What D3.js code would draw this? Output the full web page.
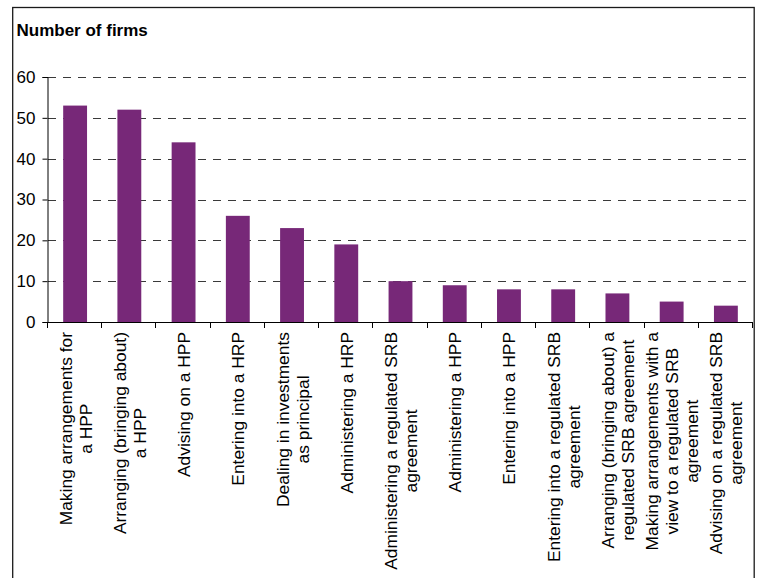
<!DOCTYPE html>
<html>
<head>
<meta charset="utf-8">
<script src="https://cdn.jsdelivr.net/npm/d3@7/dist/d3.min.js"></script>
<style>
  html, body { margin: 0; padding: 0; background: #fff; }
  svg { display: block; font-family: "Liberation Sans", Arial, sans-serif; }
</style>
</head>
<body>
<svg id="chart" width="758" height="578"></svg>
<script>
// Activities (each label split into its wrapped lines) and firm counts
const categories = [
  ["Making arrangements for", "a HPP"],
  ["Arranging (bringing about)", "a HPP"],
  ["Advising on a HPP"],
  ["Entering into a HRP"],
  ["Dealing in investments", "as principal"],
  ["Administering a HRP"],
  ["Administering a regulated SRB", "agreement"],
  ["Administering a HPP"],
  ["Entering into a HPP"],
  ["Entering into a regulated SRB", "agreement"],
  ["Arranging (bringing about) a", "regulated SRB agreement"],
  ["Making arrangements with a", "view to a regulated SRB", "agreement"],
  ["Advising on a regulated SRB", "agreement"]
];
const firms = [53, 52, 44, 26, 23, 19, 10, 9, 8, 8, 7, 5, 4];
const yTicks = [0, 10, 20, 30, 40, 50, 60];
const title = "Number of firms";

const svg = d3.select("#chart");
const plotLeft = 48, plotRight = 753, plotTop = 77, plotBottom = 322;
const barColor = "#772878";
const labelSize = 17.4;
const tickSize = 17;

// Frame around the whole chart
svg.append("rect")
  .attr("x", 12.7).attr("y", 7.5)
  .attr("width", 741.5).attr("height", 600)
  .attr("fill", "none").attr("stroke", "#1a1a1a").attr("stroke-width", 1.3);

svg.append("text")
  .attr("x", 16.5).attr("y", 35.5)
  .attr("font-weight", "bold").attr("font-size", 17)
  .attr("fill", "#000")
  .text(title);

const idx = d3.range(categories.length);
const x = d3.scaleBand().domain(idx).range([plotLeft, plotRight])
  .paddingInner(0.56).paddingOuter(0.28);
const y = d3.scaleLinear().domain([0, 60]).range([plotBottom, plotTop]);

// Dashed gridlines
svg.append("g").selectAll("line")
  .data(yTicks.filter(d => d > 0))
  .join("line")
  .attr("x1", plotLeft).attr("x2", plotRight)
  .attr("y1", d => Math.round(y(d)) + 0.5).attr("y2", d => Math.round(y(d)) + 0.5)
  .attr("stroke", "#3a3a3a").attr("stroke-width", 1)
  .attr("stroke-dasharray", "8,7");

// Bars
svg.append("g").selectAll("rect")
  .data(firms)
  .join("rect")
  .attr("x", (d, i) => x(i))
  .attr("width", x.bandwidth())
  .attr("y", d => y(d))
  .attr("height", d => y(0) - y(d))
  .attr("fill", barColor);

// Y axis
const yAxis = svg.append("g")
  .attr("transform", `translate(${plotLeft - 0.5},0)`)
  .call(d3.axisLeft(y).tickValues(yTicks).tickSize(5).tickPadding(7).tickFormat(d3.format("d")));
yAxis.select(".domain").attr("stroke", "#000");
yAxis.selectAll(".tick line").attr("stroke", "#000");
yAxis.selectAll(".tick text")
  .attr("font-size", tickSize).attr("fill", "#000")
  .attr("font-family", "Liberation Sans, Arial, sans-serif");

// X axis line with ticks at category boundaries
const step = x.step();
const boundaries = d3.range(categories.length + 1).map(i => plotLeft + i * step);
const xg = svg.append("g");
xg.append("line")
  .attr("x1", plotLeft - 0.5).attr("x2", plotRight)
  .attr("y1", plotBottom + 0.5).attr("y2", plotBottom + 0.5)
  .attr("stroke", "#000");
xg.selectAll("line.tk")
  .data(boundaries)
  .join("line").attr("class", "tk")
  .attr("x1", d => Math.round(d) - 0.5).attr("x2", d => Math.round(d) - 0.5)
  .attr("y1", plotBottom).attr("y2", plotBottom + 6)
  .attr("stroke", "#000");

// Rotated, centered multi-line category labels
const lineGap = 20;
const labelTop = 332;
const labels = svg.append("g").selectAll("g")
  .data(categories)
  .join("g")
  .attr("transform", (d, i) => `translate(${x(i) + x.bandwidth() / 2},${labelTop}) rotate(-90)`);

labels.each(function(lines) {
  const g = d3.select(this);
  const texts = g.selectAll("text")
    .data(lines)
    .join("text")
    .attr("font-size", labelSize)
    .attr("fill", "#000")
    .attr("text-anchor", "middle")
    .attr("y", (d, j) => (j - (lines.length - 1) / 2) * lineGap + 6.5)
    .text(d => d);
  let maxW = 0;
  texts.each(function() { maxW = Math.max(maxW, this.getComputedTextLength()); });
  texts.attr("x", -maxW / 2);
});
</script>
</body>
</html>
